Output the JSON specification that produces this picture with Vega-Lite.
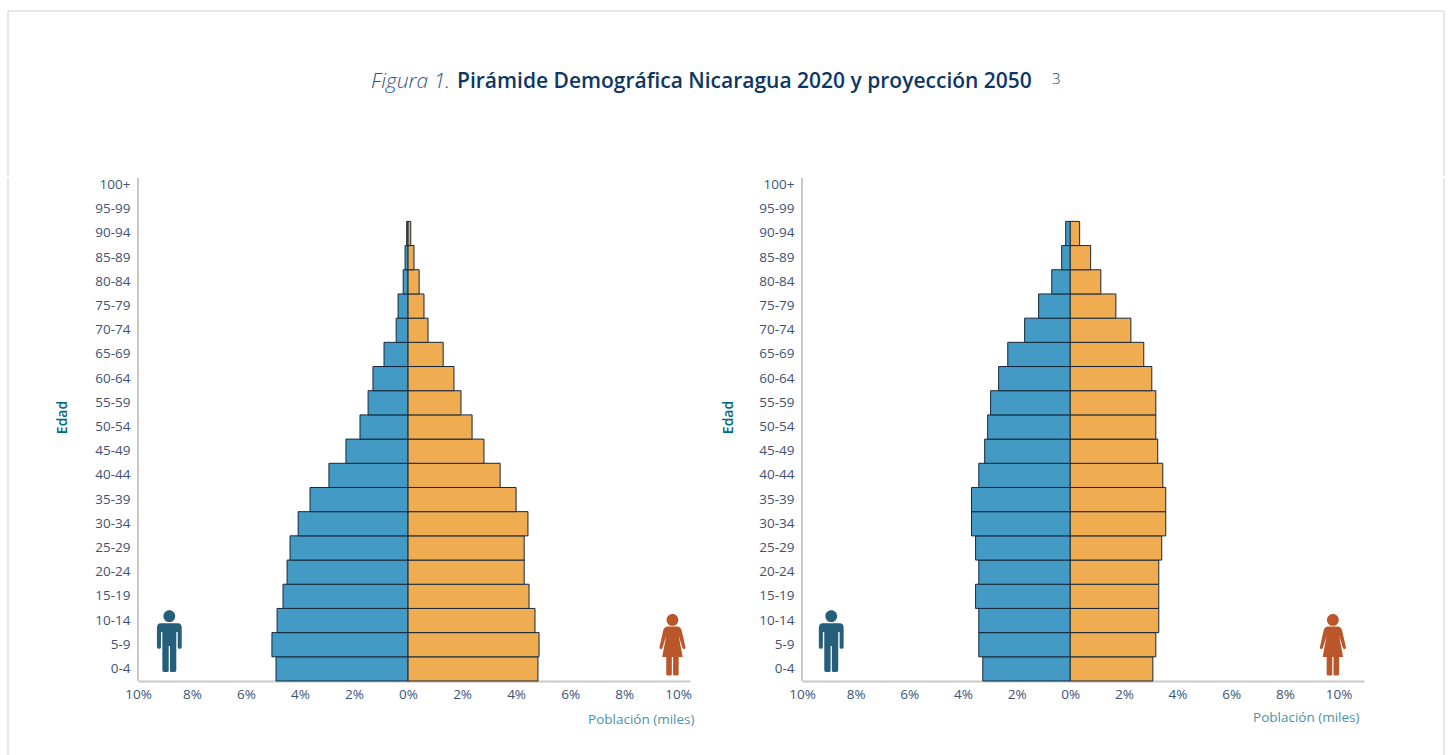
{"$schema":"https://vega.github.io/schema/vega-lite/v6.json","padding":{"left":7,"top":10,"right":0,"bottom":0},"background":"white","config":{"view":{"stroke":null},"font":"Open Sans"},
"datasets":{"p2020":[
{"edad":"0-4","sexo":"Hombres","pct":-4.89},{"edad":"0-4","sexo":"Mujeres","pct":4.81},
{"edad":"5-9","sexo":"Hombres","pct":-5.04},{"edad":"5-9","sexo":"Mujeres","pct":4.85},
{"edad":"10-14","sexo":"Hombres","pct":-4.85},{"edad":"10-14","sexo":"Mujeres","pct":4.7},
{"edad":"15-19","sexo":"Hombres","pct":-4.63},{"edad":"15-19","sexo":"Mujeres","pct":4.48},
{"edad":"20-24","sexo":"Hombres","pct":-4.48},{"edad":"20-24","sexo":"Mujeres","pct":4.3},
{"edad":"25-29","sexo":"Hombres","pct":-4.37},{"edad":"25-29","sexo":"Mujeres","pct":4.3},
{"edad":"30-34","sexo":"Hombres","pct":-4.07},{"edad":"30-34","sexo":"Mujeres","pct":4.44},
{"edad":"35-39","sexo":"Hombres","pct":-3.63},{"edad":"35-39","sexo":"Mujeres","pct":4.0},
{"edad":"40-44","sexo":"Hombres","pct":-2.93},{"edad":"40-44","sexo":"Mujeres","pct":3.41},
{"edad":"45-49","sexo":"Hombres","pct":-2.3},{"edad":"45-49","sexo":"Mujeres","pct":2.81},
{"edad":"50-54","sexo":"Hombres","pct":-1.78},{"edad":"50-54","sexo":"Mujeres","pct":2.37},
{"edad":"55-59","sexo":"Hombres","pct":-1.48},{"edad":"55-59","sexo":"Mujeres","pct":1.96},
{"edad":"60-64","sexo":"Hombres","pct":-1.3},{"edad":"60-64","sexo":"Mujeres","pct":1.7},
{"edad":"65-69","sexo":"Hombres","pct":-0.89},{"edad":"65-69","sexo":"Mujeres","pct":1.3},
{"edad":"70-74","sexo":"Hombres","pct":-0.44},{"edad":"70-74","sexo":"Mujeres","pct":0.74},
{"edad":"75-79","sexo":"Hombres","pct":-0.37},{"edad":"75-79","sexo":"Mujeres","pct":0.59},
{"edad":"80-84","sexo":"Hombres","pct":-0.18},{"edad":"80-84","sexo":"Mujeres","pct":0.41},
{"edad":"85-89","sexo":"Hombres","pct":-0.11},{"edad":"85-89","sexo":"Mujeres","pct":0.22},
{"edad":"90-94","sexo":"Hombres","pct":-0.05},{"edad":"90-94","sexo":"Mujeres","pct":0.1}],
"p2050":[
{"edad":"0-4","sexo":"Hombres","pct":-3.26},{"edad":"0-4","sexo":"Mujeres","pct":3.08},
{"edad":"5-9","sexo":"Hombres","pct":-3.41},{"edad":"5-9","sexo":"Mujeres","pct":3.19},
{"edad":"10-14","sexo":"Hombres","pct":-3.41},{"edad":"10-14","sexo":"Mujeres","pct":3.3},
{"edad":"15-19","sexo":"Hombres","pct":-3.53},{"edad":"15-19","sexo":"Mujeres","pct":3.3},
{"edad":"20-24","sexo":"Hombres","pct":-3.41},{"edad":"20-24","sexo":"Mujeres","pct":3.3},
{"edad":"25-29","sexo":"Hombres","pct":-3.53},{"edad":"25-29","sexo":"Mujeres","pct":3.41},
{"edad":"30-34","sexo":"Hombres","pct":-3.68},{"edad":"30-34","sexo":"Mujeres","pct":3.56},
{"edad":"35-39","sexo":"Hombres","pct":-3.68},{"edad":"35-39","sexo":"Mujeres","pct":3.56},
{"edad":"40-44","sexo":"Hombres","pct":-3.41},{"edad":"40-44","sexo":"Mujeres","pct":3.45},
{"edad":"45-49","sexo":"Hombres","pct":-3.19},{"edad":"45-49","sexo":"Mujeres","pct":3.26},
{"edad":"50-54","sexo":"Hombres","pct":-3.08},{"edad":"50-54","sexo":"Mujeres","pct":3.19},
{"edad":"55-59","sexo":"Hombres","pct":-2.97},{"edad":"55-59","sexo":"Mujeres","pct":3.19},
{"edad":"60-64","sexo":"Hombres","pct":-2.67},{"edad":"60-64","sexo":"Mujeres","pct":3.04},
{"edad":"65-69","sexo":"Hombres","pct":-2.33},{"edad":"65-69","sexo":"Mujeres","pct":2.74},
{"edad":"70-74","sexo":"Hombres","pct":-1.7},{"edad":"70-74","sexo":"Mujeres","pct":2.26},
{"edad":"75-79","sexo":"Hombres","pct":-1.18},{"edad":"75-79","sexo":"Mujeres","pct":1.7},
{"edad":"80-84","sexo":"Hombres","pct":-0.69},{"edad":"80-84","sexo":"Mujeres","pct":1.14},
{"edad":"85-89","sexo":"Hombres","pct":-0.32},{"edad":"85-89","sexo":"Mujeres","pct":0.76},
{"edad":"90-94","sexo":"Hombres","pct":-0.17},{"edad":"90-94","sexo":"Mujeres","pct":0.35}]},
"spacing":0,
"vconcat":[
{"width":1436,"height":165,"data":{"values":[{}]},"layer":[
{"mark":{"type":"rule","color":"#cfcfcf","strokeWidth":1},"encoding":{"y":{"datum":1,"type":"quantitative","scale":{"domain":[0,1]},"axis":null}}},
{"mark":{"type":"rule","color":"#cfcfcf","strokeWidth":1},"encoding":{"x":{"datum":0,"type":"quantitative","scale":{"domain":[0,1]},"axis":null}}},
{"mark":{"type":"rule","color":"#cfcfcf","strokeWidth":1},"encoding":{"x":{"datum":1,"type":"quantitative","axis":null}}},
{"mark":{"type":"text","text":"Figura 1.","align":"right","baseline":"middle","dx":-276,"fontSize":21,"fontStyle":"italic","fontWeight":300,"color":"#2f5680"},"encoding":{"x":{"datum":0.5,"type":"quantitative","axis":null},"y":{"datum":0.57,"type":"quantitative","axis":null}}},
{"mark":{"type":"text","text":"Pirámide Demográfica Nicaragua 2020 y proyección 2050","align":"left","baseline":"middle","dx":-269,"fontSize":21,"fontWeight":600,"color":"#0d3766"},"encoding":{"x":{"datum":0.5,"type":"quantitative","axis":null},"y":{"datum":0.57,"type":"quantitative","axis":null}}},
{"mark":{"type":"text","text":"3","align":"left","baseline":"middle","dx":326,"dy":-3,"fontSize":15,"fontWeight":300,"color":"#0d3766"},"encoding":{"x":{"datum":0.5,"type":"quantitative","axis":null},"y":{"datum":0.57,"type":"quantitative","axis":null}}}
]},
{"spacing":27,"hconcat":[
{"width":20,"height":580,"data":{"values":[{}]},"mark":{"type":"rule","color":"#cfcfcf","strokeWidth":1},"encoding":{"x":{"datum":0,"type":"quantitative","scale":{"domain":[0,1]},"axis":null}}},
{"width":552,"height":503,"layer":[
{"data":{"name":"p2020"},"mark":{"type":"bar","stroke":"#16283a","strokeWidth":1},"encoding":{
"x":{"field":"pct","type":"quantitative","stack":null,"scale":{"domain":[-10,10.44],"nice":false},"axis":{"values":[-10,-8,-6,-4,-2,0,2,4,6,8,10],"labelExpr":"abs(datum.value)+'%'","grid":false,"ticks":false,"domainColor":"#c9c9c9","domainWidth":2,"labelColor":"#3c5375","labelFontSize":13.5,"labelPadding":6,"labelFlush":false,"labelOverlap":false,"title":"Población (miles)","titleColor":"#4a93a8","titleFontSize":13.5,"titleFontWeight":400,"titleX":556,"titleY":38,"titleAlign":"right","titleBaseline":"middle","encode":{"labels":{"update":{"dx":{"signal":"{'-10':-1,'-8':3,'-6':2,'-4':0,'-2':-2,'0':3,'2':3,'4':1,'6':0,'8':4,'10':-1}[datum.value]"}}}}}},
"y":{"field":"edad","type":"nominal","sort":null,"scale":{"domain":["0-4","5-9","10-14","15-19","20-24","25-29","30-34","35-39","40-44","45-49","50-54","55-59","60-64","65-69","70-74","75-79","80-84","85-89","90-94","95-99","100+"],"range":[503,-5],"paddingInner":0,"paddingOuter":0},"axis":{"domain":false,"ticks":false,"grid":false,"labelColor":"#3c5375","labelFontSize":13.5,"labelPadding":8,"labelAngle":0,"title":"Edad","titleColor":"#006a80","titleFontSize":14,"titleFontWeight":600,"titleX":-76,"titleY":239,"titleAlign":"center","titleBaseline":"middle","encode":{"labels":{"update":{"dy":{"signal":"{'0-4':-1.6,'5-9':-0.4,'10-14':0.8,'15-19':-1,'20-24':0,'25-29':0.4,'30-34':1.6,'35-39':0.8,'40-44':0,'45-49':1.2,'50-54':0.4,'55-59':1.6,'60-64':2.8,'65-69':2,'70-74':4.2,'75-79':3.4,'80-84':3.6,'85-89':2.8,'90-94':4,'95-99':4.2,'100+':5.4}[datum.value]"}}}}}},
"color":{"field":"sexo","type":"nominal","scale":{"domain":["Hombres","Mujeres"],"range":["#429ac5","#f0ac50"]},"legend":null}}},
{"data":{"values":[{}]},"mark":{"type":"rule","color":"#c9c9c9","strokeWidth":2},"encoding":{"x":{"datum":-10,"type":"quantitative"}}},
{"data":{"values":[{}]},"mark":{"type":"point","filled":true,"opacity":1,"size":3844,"color":"#265f7a","strokeWidth":0,"yOffset":-3.4,"shape":"M-0.19 -0.81A0.19 0.19 0 1 1 0.19 -0.81A0.19 0.19 0 1 1 -0.19 -0.81ZM-0.28 -0.58L0.28 -0.58Q0.4 -0.58 0.4 -0.42L0.4 0.18Q0.4 0.24 0.33 0.24Q0.27 0.24 0.27 0.18L0.27 -0.3L0.225 -0.3L0.225 0.93Q0.225 0.99 0.15 0.99L0.07 0.99Q0.02 0.99 0.02 0.93L0.02 0.15L-0.02 0.15L-0.02 0.93Q-0.02 0.99 -0.07 0.99L-0.15 0.99Q-0.225 0.99 -0.225 0.93L-0.225 -0.3L-0.27 -0.3L-0.27 0.18Q-0.27 0.24 -0.33 0.24Q-0.4 0.24 -0.4 0.18L-0.4 -0.42Q-0.4 -0.58 -0.28 -0.58Z"},"encoding":{"x":{"datum":-8.84,"type":"quantitative"},"y":{"datum":"5-9","type":"nominal"}}},
{"data":{"values":[{}]},"mark":{"type":"point","filled":true,"opacity":1,"size":3844,"color":"#b9572b","strokeWidth":0,"shape":"M-0.19 -0.8A0.19 0.19 0 1 1 0.19 -0.8A0.19 0.19 0 1 1 -0.19 -0.8ZM-0.17 -0.59L0.17 -0.59Q0.27 -0.58 0.3 -0.45L0.42 0.08Q0.43 0.13 0.38 0.14Q0.34 0.15 0.32 0.1L0.2 -0.3L0.33 0.4L0.2 0.4L0.2 0.96Q0.2 0.99 0.15 0.99L0.07 0.99Q0.02 0.99 0.02 0.96L0.02 0.4L-0.02 0.4L-0.02 0.96Q-0.02 0.99 -0.07 0.99L-0.15 0.99Q-0.2 0.99 -0.2 0.96L-0.2 0.4L-0.33 0.4L-0.2 -0.3L-0.32 0.1Q-0.34 0.15 -0.38 0.14Q-0.43 0.13 -0.42 0.08L-0.3 -0.45Q-0.27 -0.58 -0.17 -0.59Z"},"encoding":{"x":{"datum":9.79,"type":"quantitative"},"y":{"datum":"5-9","type":"nominal"}}}
]},
{"width":562,"height":503,"layer":[
{"data":{"name":"p2050"},"mark":{"type":"bar","stroke":"#16283a","strokeWidth":1},"encoding":{
"x":{"field":"pct","type":"quantitative","stack":null,"scale":{"domain":[-10,10.95],"nice":false},"axis":{"values":[-10,-8,-6,-4,-2,0,2,4,6,8,10],"labelExpr":"abs(datum.value)+'%'","grid":false,"ticks":false,"domainColor":"#c9c9c9","domainWidth":2,"labelColor":"#3c5375","labelFontSize":13.5,"labelPadding":6,"labelFlush":false,"labelOverlap":false,"title":"Población (miles)","titleColor":"#4a93a8","titleFontSize":13.5,"titleFontWeight":400,"titleX":557,"titleY":36,"titleAlign":"right","titleBaseline":"middle","encode":{"labels":{"update":{"dx":{"signal":"{'-10':-3,'-8':2.3,'-6':0.7,'-4':-1,'-2':-1.6,'0':2.7,'2':4,'4':2.4,'6':1.7,'8':5,'10':0.4}[datum.value]"}}}}}},
"y":{"field":"edad","type":"nominal","sort":null,"scale":{"domain":["0-4","5-9","10-14","15-19","20-24","25-29","30-34","35-39","40-44","45-49","50-54","55-59","60-64","65-69","70-74","75-79","80-84","85-89","90-94","95-99","100+"],"range":[503,-5],"paddingInner":0,"paddingOuter":0},"axis":{"domain":false,"ticks":false,"grid":false,"labelColor":"#3c5375","labelFontSize":13.5,"labelPadding":8,"labelAngle":0,"title":"Edad","titleColor":"#006a80","titleFontSize":14,"titleFontWeight":600,"titleX":-74,"titleY":239,"titleAlign":"center","titleBaseline":"middle","encode":{"labels":{"update":{"dy":{"signal":"{'0-4':-1.6,'5-9':-0.4,'10-14':0.8,'15-19':-1,'20-24':0,'25-29':0.4,'30-34':1.6,'35-39':0.8,'40-44':0,'45-49':1.2,'50-54':0.4,'55-59':1.6,'60-64':2.8,'65-69':2,'70-74':4.2,'75-79':3.4,'80-84':3.6,'85-89':7.8,'90-94':10,'95-99':9.2,'100+':11.4}[datum.value]"}}}}}},
"color":{"field":"sexo","type":"nominal","scale":{"domain":["Hombres","Mujeres"],"range":["#429ac5","#f0ac50"]},"legend":null}}},
{"data":{"values":[{}]},"mark":{"type":"rule","color":"#c9c9c9","strokeWidth":2},"encoding":{"x":{"datum":-10,"type":"quantitative"}}},
{"data":{"values":[{}]},"mark":{"type":"point","filled":true,"opacity":1,"size":3844,"color":"#265f7a","strokeWidth":0,"yOffset":-3.4,"shape":"M-0.19 -0.81A0.19 0.19 0 1 1 0.19 -0.81A0.19 0.19 0 1 1 -0.19 -0.81ZM-0.28 -0.58L0.28 -0.58Q0.4 -0.58 0.4 -0.42L0.4 0.18Q0.4 0.24 0.33 0.24Q0.27 0.24 0.27 0.18L0.27 -0.3L0.225 -0.3L0.225 0.93Q0.225 0.99 0.15 0.99L0.07 0.99Q0.02 0.99 0.02 0.93L0.02 0.15L-0.02 0.15L-0.02 0.93Q-0.02 0.99 -0.07 0.99L-0.15 0.99Q-0.225 0.99 -0.225 0.93L-0.225 -0.3L-0.27 -0.3L-0.27 0.18Q-0.27 0.24 -0.33 0.24Q-0.4 0.24 -0.4 0.18L-0.4 -0.42Q-0.4 -0.58 -0.28 -0.58Z"},"encoding":{"x":{"datum":-8.91,"type":"quantitative"},"y":{"datum":"5-9","type":"nominal"}}},
{"data":{"values":[{}]},"mark":{"type":"point","filled":true,"opacity":1,"size":3844,"color":"#b9572b","strokeWidth":0,"shape":"M-0.19 -0.8A0.19 0.19 0 1 1 0.19 -0.8A0.19 0.19 0 1 1 -0.19 -0.8ZM-0.17 -0.59L0.17 -0.59Q0.27 -0.58 0.3 -0.45L0.42 0.08Q0.43 0.13 0.38 0.14Q0.34 0.15 0.32 0.1L0.2 -0.3L0.33 0.4L0.2 0.4L0.2 0.96Q0.2 0.99 0.15 0.99L0.07 0.99Q0.02 0.99 0.02 0.96L0.02 0.4L-0.02 0.4L-0.02 0.96Q-0.02 0.99 -0.07 0.99L-0.15 0.99Q-0.2 0.99 -0.2 0.96L-0.2 0.4L-0.33 0.4L-0.2 -0.3L-0.32 0.1Q-0.34 0.15 -0.38 0.14Q-0.43 0.13 -0.42 0.08L-0.3 -0.45Q-0.27 -0.58 -0.17 -0.59Z"},"encoding":{"x":{"datum":9.79,"type":"quantitative"},"y":{"datum":"5-9","type":"nominal"}}}
]},
{"width":53,"height":580,"data":{"values":[{}]},"mark":{"type":"rule","color":"#cfcfcf","strokeWidth":1},"encoding":{"x":{"datum":1,"type":"quantitative","scale":{"domain":[0,1]},"axis":null}}}
]}
]}
